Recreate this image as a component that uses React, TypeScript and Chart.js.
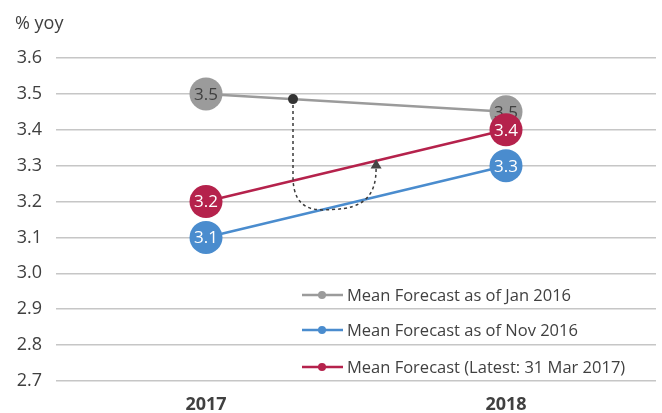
import React, { useEffect, useRef } from "react";
import { Chart, registerables } from "chart.js";

Chart.register(...registerables);

const categories = ["2017", "2018"];
const seriesLabels = [
  "Mean Forecast as of Jan 2016",
  "Mean Forecast as of Nov 2016",
  "Mean Forecast (Latest: 31 Mar 2017)",
];
const janValues = [3.5, 3.45];
const novValues = [3.1, 3.3];
const latestValues = [3.2, 3.4];
const seriesColors = ["#9b9b9b", "#4a8cce", "#b5224c"];
const labelColors = ["#404040", "#ffffff", "#ffffff"];
const yTicks = [2.7, 2.8, 2.9, 3.0, 3.1, 3.2, 3.3, 3.4, 3.5, 3.6];
const yUnit = "% yoy";

// annotation (data units: x = category index, y = value)
const annotStartX = 0.29;
const annotDown = [0.29, 3.27];
const annotCurve1 = [[0.29, 3.17], [0.37, 3.175], [0.42, 3.178]];
const annotCurve2 = [[0.53, 3.18], [0.567, 3.22], [0.567, 3.292]];
const annotTip = [0.567, 3.318];

const FONT = "'Open Sans', 'Noto Sans', sans-serif";

const labelPlugin = {
  id: "pointLabels",
  afterDatasetDraw(chart: any, args: any) {
    const ctx = chart.ctx;
    const ds = chart.data.datasets[args.index];
    const meta = args.meta;
    ctx.save();
    ctx.font = `17px ${FONT}`;
    ctx.textAlign = "center";
    ctx.textBaseline = "middle";
    ctx.fillStyle = labelColors[args.index];
    meta.data.forEach((el: any, i: number) => {
      const v = ds.data[i] as number;
      ctx.fillText(v.toFixed(1), el.x, el.y + 1);
    });
    ctx.restore();
  },
};

const annotationPlugin = {
  id: "annot",
  afterDatasetsDraw(chart: any) {
    const ctx = chart.ctx;
    const xs = chart.scales.x;
    const ys = chart.scales.y;
    const px = (v: number) => xs.getPixelForValue(v);
    const py = (v: number) => ys.getPixelForValue(v);
    const startY = janValues[0] + (janValues[1] - janValues[0]) * annotStartX;
    const sx = px(annotStartX);
    const sy = py(startY);
    ctx.save();
    ctx.strokeStyle = "#3a3a3a";
    ctx.lineWidth = 1.5;
    ctx.setLineDash([3, 3]);
    ctx.beginPath();
    ctx.moveTo(sx, sy);
    ctx.lineTo(px(annotDown[0]), py(annotDown[1]));
    ctx.bezierCurveTo(
      px(annotCurve1[0][0]), py(annotCurve1[0][1]),
      px(annotCurve1[1][0]), py(annotCurve1[1][1]),
      px(annotCurve1[2][0]), py(annotCurve1[2][1])
    );
    ctx.bezierCurveTo(
      px(annotCurve2[0][0]), py(annotCurve2[0][1]),
      px(annotCurve2[1][0]), py(annotCurve2[1][1]),
      px(annotCurve2[2][0]), py(annotCurve2[2][1])
    );
    ctx.stroke();
    ctx.setLineDash([]);
    ctx.fillStyle = "#333333";
    ctx.beginPath();
    ctx.arc(sx, sy, 5, 0, Math.PI * 2);
    ctx.fill();
    const tx = px(annotTip[0]);
    const ty = py(annotTip[1]);
    const by = py(annotCurve2[2][1]);
    ctx.fillStyle = "#444444";
    ctx.beginPath();
    ctx.moveTo(tx, ty);
    ctx.lineTo(tx + 5.5, by);
    ctx.lineTo(tx - 5.5, by);
    ctx.closePath();
    ctx.fill();
    ctx.restore();
  },
};

const legendPlugin = {
  id: "customLegend",
  afterDraw(chart: any) {
    const ctx = chart.ctx;
    const area = chart.chartArea;
    const x0 = area.left + 246;
    const rows = [area.bottom - 86, area.bottom - 51, area.bottom - 14];
    ctx.save();
    ctx.font = `16.5px ${FONT}`;
    ctx.textBaseline = "middle";
    ctx.textAlign = "left";
    seriesLabels.forEach((lab, i) => {
      const y = rows[i];
      ctx.strokeStyle = seriesColors[i];
      ctx.lineWidth = 2.5;
      ctx.beginPath();
      ctx.moveTo(x0, y);
      ctx.lineTo(x0 + 41, y);
      ctx.stroke();
      ctx.fillStyle = seriesColors[i];
      ctx.beginPath();
      ctx.arc(x0 + 20, y, 4, 0, Math.PI * 2);
      ctx.fill();
      ctx.fillStyle = "#404040";
      ctx.fillText(lab, x0 + 45, y + 1);
    });
    ctx.restore();
  },
};

const titlePlugin = {
  id: "unitTitle",
  afterDraw(chart: any) {
    const ctx = chart.ctx;
    ctx.save();
    ctx.font = `18px ${FONT}`;
    ctx.fillStyle = "#404040";
    ctx.textBaseline = "middle";
    ctx.textAlign = "left";
    ctx.fillText(yUnit, 15, 24);
    ctx.restore();
  },
};

export default function App() {
  const canvasRef = useRef<HTMLCanvasElement | null>(null);

  useEffect(() => {
    if (!canvasRef.current) return;
    const values = [janValues, novValues, latestValues];
    const chart = new Chart(canvasRef.current, {
      type: "line",
      data: {
        labels: categories,
        datasets: values.map((vals, i) => ({
          label: seriesLabels[i],
          data: vals,
          borderColor: seriesColors[i],
          backgroundColor: seriesColors[i],
          pointBackgroundColor: seriesColors[i],
          pointBorderWidth: 0,
          pointRadius: 16.5,
          pointHoverRadius: 16.5,
          borderWidth: 2.5,
          tension: 0,
          order: 3 - i,
        })),
      },
      options: {
        animation: false,
        responsive: true,
        maintainAspectRatio: false,
        layout: { autoPadding: false, padding: { top: 58, left: 0, right: 6, bottom: 0 } },
        plugins: {
          legend: { display: false },
          tooltip: { enabled: false },
          title: { display: false },
        },
        scales: {
          x: {
            type: "category",
            offset: true,
            grid: { display: false, drawTicks: false },
            border: { display: false },
            afterFit: (scale: any) => {
              scale.height = 32;
            },
            ticks: {
              color: "#404040",
              padding: 13,
              font: { family: FONT, size: 18, weight: "bold" },
            },
          },
          y: {
            min: yTicks[0],
            max: yTicks[yTicks.length - 1],
            afterBuildTicks: (scale: any) => {
              scale.ticks = yTicks.map((v) => ({ value: v }));
            },
            afterFit: (scale: any) => {
              scale.width = 56;
            },
            grid: { color: "#c6c6c6", lineWidth: 1.5, drawTicks: false },
            border: { display: false },
            ticks: {
              color: "#404040",
              padding: 14,
              font: { family: FONT, size: 18 },
              callback: (v: any) => Number(v).toFixed(1),
            },
          },
        },
      },
      plugins: [labelPlugin, annotationPlugin, legendPlugin, titlePlugin],
    });
    return () => chart.destroy();
  }, []);

  return (
    <div style={{ position: "absolute", left: 0, top: 0, width: 662, height: 413 }}>
      <canvas ref={canvasRef} />
    </div>
  );
}
